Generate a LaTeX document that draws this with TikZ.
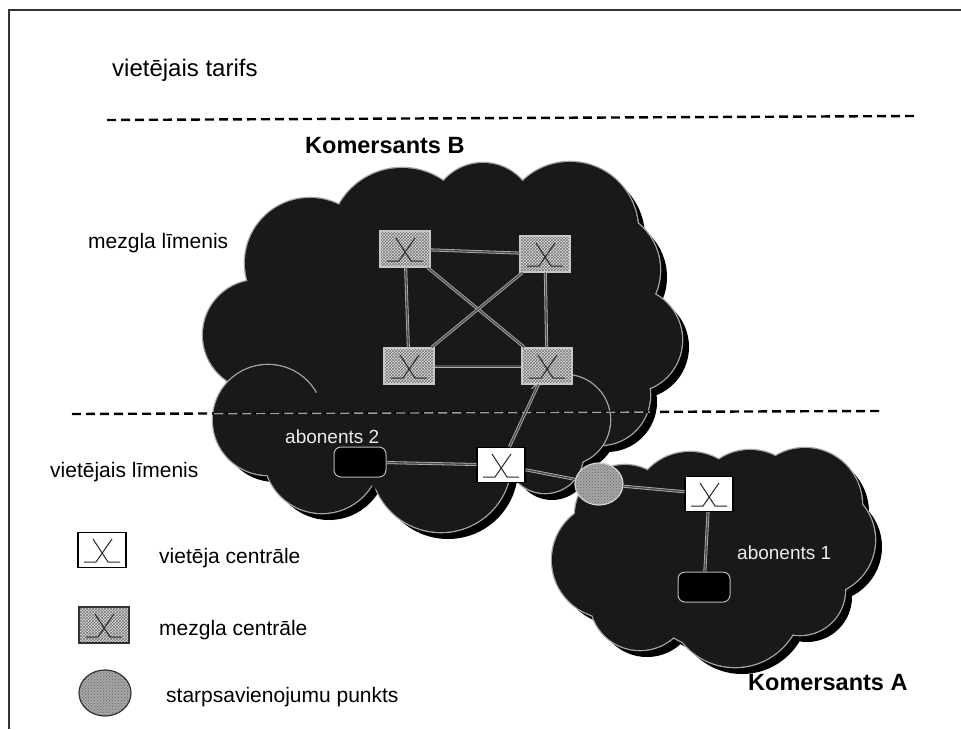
\documentclass[tikz,border=0pt]{standalone}
\usepackage{fontspec}
\setmainfont{Liberation Sans}
\usetikzlibrary{patterns,shapes.geometric}
\begin{document}
\begin{tikzpicture}[x=1pt,y=-1pt,
  swsym/.style={path picture={
     \draw[line width=1pt,black!85] ([shift={(-18,12)}]path picture bounding box.center) -- ++(12,0) -- ++(16,-23);
     \draw[line width=1pt,black!85] ([shift={(18,12)}]path picture bounding box.center) -- ++(-12,0) -- ++(-15,-23);}},
  localsw/.style={rectangle, draw=black, line width=1.2pt, fill=white, minimum width=48pt, minimum height=35pt, inner sep=0pt, swsym},
  nodesw/.style={rectangle, minimum width=50pt, minimum height=36pt, inner sep=0pt, preaction={fill=gray!25}, pattern=crosshatch, pattern color=black!55, draw=gray!45, line width=1.2pt, swsym},
  ipoint/.style={ellipse, minimum width=48pt, minimum height=42pt, inner sep=0pt, preaction={fill=gray!70}, pattern=crosshatch dots, pattern color=black!60, draw=gray!35, line width=1.2pt},
  term/.style={rectangle, rounded corners=7pt, fill=black, draw=gray!55, line width=1pt, minimum width=52pt, minimum height=30pt, inner sep=0pt},
  link/.style={draw=gray!60, line width=0.8pt, double=black!70, double distance=1.4pt},
  lbl/.style={font=\fontsize{21}{25}\selectfont, anchor=base west, inner sep=0pt},
  blbl/.style={font=\fontsize{23.5}{28}\selectfont\bfseries, anchor=base west, inner sep=0pt},
  ablbl/.style={font=\fontsize{19}{22}\selectfont, text=white!85!gray, anchor=base west, inner sep=0pt},
  dline/.style={line width=2.4pt, dash pattern=on 9pt off 5pt},
  cloudfill/.style={fill=black!90},
  cloudedge/.style={draw=gray!70, line width=2.6pt}
]
\useasboundingbox (0,0) rectangle (961,729);
\fill[white] (0,0) rectangle (961,729);

% frame
\coordinate (fr1) at (8.5,729);
\coordinate (fr2) at (8.5,10);
\coordinate (fr3) at (961,10);
\draw[line width=2pt, black!80] (fr1) -- (fr2) -- (fr3);

\def\cloudBup{310/263/65, 258/335/55, 320/330/40, 402/240/72, 483/215/52, 570/230/68, 600/270/60, 580/340/40, 630/340/52, 600/395/50, 450/320/130, 290/380/50}
\def\cloudBlow{268/420/55, 322/455/58, 441/462/70, 545/455/38, 565/420/45}
\def\cloudBmid{420/440/66, 350/430/50, 500/430/52}
\def\cloudAlist{610/560/58, 625/515/50, 690/510/58, 750/505/55, 805/505/57, 820/540/55, 800/590/45, 735/600/67, 640/600/50, 720/560/90}

% shadows
\foreach \x/\y/\r in \cloudBup { \fill[black] (\x+7,\y+7) circle (\r pt); }
\foreach \x/\y/\r in \cloudBlow { \fill[black] (\x+7,\y+7) circle (\r pt); }
\foreach \x/\y/\r in \cloudAlist { \fill[black] (\x+7,\y+7) circle (\r pt); }
% cloud B, upper part
\foreach \x/\y/\r in \cloudBup { \draw[cloudedge] (\x,\y) circle (\r pt); }
\foreach \x/\y/\r in \cloudBup { \fill[cloudfill] (\x,\y) circle (\r pt); }
% cloud B, lower part
\foreach \x/\y/\r in \cloudBlow { \draw[cloudedge] (\x,\y) circle (\r pt); }
\foreach \x/\y/\r in \cloudBlow { \fill[cloudfill] (\x,\y) circle (\r pt); }
\foreach \x/\y/\r in \cloudBmid { \fill[cloudfill] (\x,\y) circle (\r pt); }
% cloud A
\foreach \x/\y/\r in \cloudAlist { \draw[cloudedge] (\x,\y) circle (\r pt); }
\foreach \x/\y/\r in \cloudAlist { \fill[cloudfill] (\x,\y) circle (\r pt); }

% dashed level lines
\coordinate (d1a) at (107,120);
\coordinate (d1b) at (915,116);
\draw[dline] (d1a) -- (d1b);
\coordinate (d2a) at (72,414);
\coordinate (d2b) at (880,411);
\draw[dline] (d2a) -- (d2b);
\coordinate (d2c) at (214,413.7);
\coordinate (d2d) at (650,412.1);
\draw[line width=1.4pt, gray!75, dash pattern=on 9pt off 5pt] (d2c) -- (d2d);

% texts
\node[lbl, font=\fontsize{24}{28}\selectfont] (t1) at (112,76) {vietējais tarifs};
\node[blbl] (kb) at (305,153) {Komersants B};
\node[lbl] (t2) at (88,248) {mezgla līmenis};
\node[lbl] (t3) at (50,477) {vietējais līmenis};
\node[blbl] (ka) at (748,690) {Komersants A};

% nodes in cloud B
\node[nodesw] (ntl) at (405,249) {};
\node[nodesw] (ntr) at (545,254) {};
\node[nodesw] (nbl) at (409,366) {};
\node[nodesw] (nbr) at (547,366) {};
\node[localsw] (lb) at (501,465) {};
\node[term] (ab2) at (360,462) {};
\node[ablbl] (ab2t) at (285,443) {abonents 2};

% cloud A
\node[localsw] (la) at (709,494) {};
\node[term] (ab1) at (704,587) {};
\node[ablbl] (ab1t) at (737,559) {abonents 1};

% interconnection point
\node[ipoint] (ip) at (599,484) {};

% links
\draw[link] (ntl) -- (ntr);
\draw[link] (nbl) -- (nbr);
\draw[link] (ntl) -- (nbl);
\draw[link] (ntr) -- (nbr);
\draw[link] (ntl) -- (nbr);
\draw[link] (ntr) -- (nbl);
\draw[link] (nbr) -- (lb);
\draw[link] (ab2) -- (lb);
\draw[link] (lb) -- (ip);
\draw[link] (ip) -- (la);
\draw[link] (la) -- (ab1);

% legend
\node[localsw] (lg1) at (102,550) {};
\node[lbl] (lg1t) at (159,563) {vietēja centrāle};
\node[nodesw, draw=black!80] (lg2) at (104,625) {};
\node[lbl] (lg2t) at (159,635) {mezgla centrāle};
\node[ipoint, draw=black!80, minimum width=52pt, minimum height=46pt] (lg3) at (105,693) {};
\node[lbl] (lg3t) at (166,702) {starpsavienojumu punkts};
\end{tikzpicture}
\end{document}
